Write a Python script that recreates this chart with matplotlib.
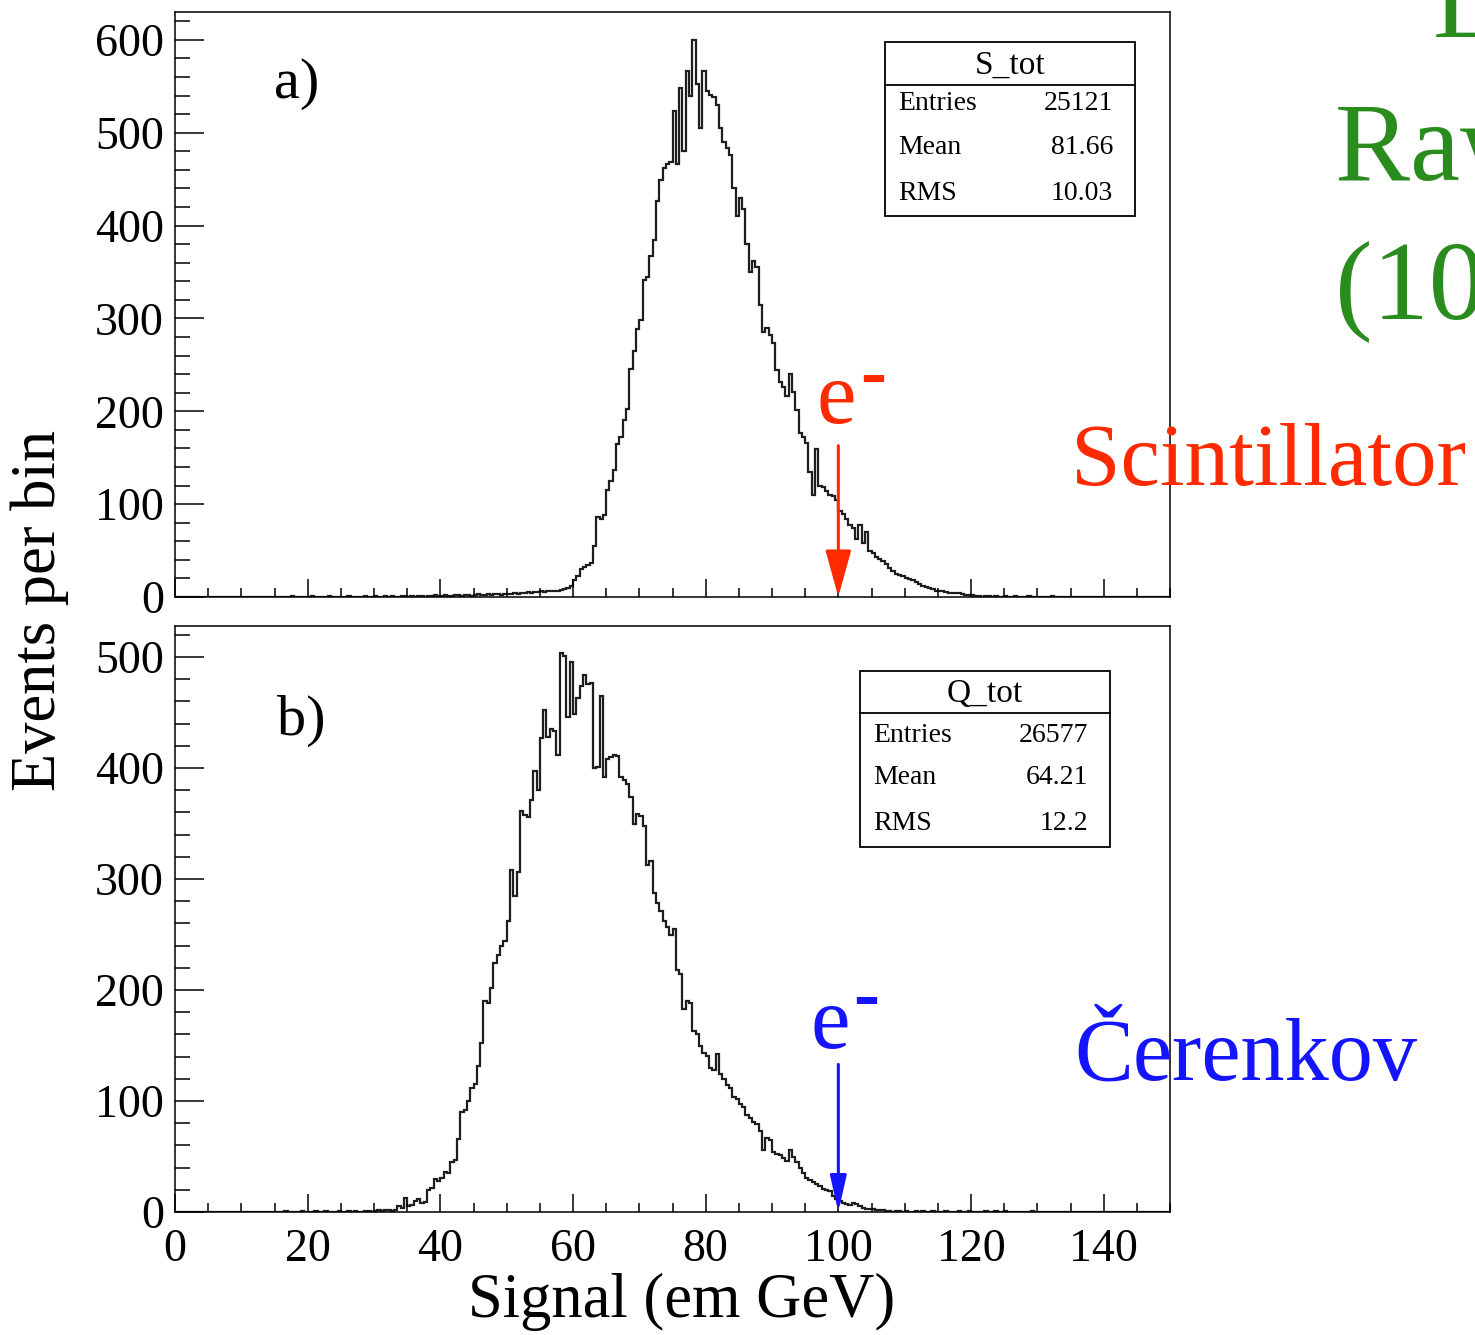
import matplotlib
matplotlib.use("Agg")
import matplotlib.pyplot as plt
import numpy as np
from matplotlib.patches import Rectangle
from matplotlib.lines import Line2D
from matplotlib.ticker import MultipleLocator

plt.rcParams["font.family"] = ["Liberation Serif", "DejaVu Serif"]

# histogram binning: 300 bins of 0.5 GeV between 0 and 150
edges = np.linspace(0, 150, 301)

# a) scintillator signal S_tot, counts per bin
s_left = [0, 0, 0, 0, 0, 0, 0, 0, 0, 0, 0, 0, 0, 0, 0, 0, 0, 0, 0, 0,
          0, 0, 0, 0, 0, 0, 0, 0, 0, 0, 0, 0, 0, 0, 0, 1, 0, 0, 0, 0,
          0, 1, 0, 0, 0, 0, 1, 0, 0, 0, 0, 0, 1, 0, 0, 0, 0, 1, 0, 0,
          1, 0, 0, 1, 0, 1, 0, 0, 1, 1, 0, 1, 0, 1, 1, 0, 1, 1, 2, 1,
          1, 2, 1, 1, 2, 2, 1, 2, 2, 1, 2, 3, 2, 2, 3, 2, 3, 3, 2, 3,
          3, 3, 4, 3, 4, 4, 5, 4, 5, 5, 6, 5, 6, 6, 7, 7]
s_core = [8, 9, 10, 12, 18, 23, 30, 32, 35, 37, 55, 86, 84, 88, 115, 125,
          137, 165, 172, 191, 203, 246, 265, 289, 298, 341, 345, 367, 384, 427,
          449, 462, 466, 468, 523, 466, 548, 480, 566, 540, 600, 552, 505, 566,
          545, 541, 538, 530, 505, 490, 484, 476, 440, 410, 430, 418, 380, 350,
          362, 355, 314, 285, 290, 282, 274, 244, 232, 226, 217, 240, 221, 201,
          177, 172, 166, 135, 110, 159, 120, 118, 114, 110, 109, 104, 93, 89,
          84, 78, 74, 62, 78, 58, 70, 50, 47, 43, 41, 39, 36, 31, 28, 25, 24,
          23, 21, 19, 18, 16, 14, 12, 11, 10, 9, 7, 6, 6, 5, 4, 4, 4, 4, 3, 2,
          2, 2, 1]
s_right = [1, 0, 1, 1, 0, 1, 0, 0, 1, 0, 0, 1, 0, 0, 0, 1, 0, 0, 0, 0,
           0, 0, 1, 0, 0, 0, 0, 0, 0, 0, 0, 0, 0, 0, 0, 0, 0, 0, 0, 0,
           0, 0, 0, 0, 0, 0, 0, 0, 0, 0, 0, 0, 0, 0, 0, 0, 0, 0]

# b) Cerenkov signal Q_tot
q_left = [0, 0, 0, 0, 0, 0, 0, 0, 0, 0, 0, 0, 0, 0, 0, 0, 0, 0, 0, 0,
          0, 0, 0, 0, 0, 0, 0, 0, 0, 0, 0, 0, 0, 1, 0, 0, 0, 0, 1, 0,
          0, 0, 1, 0, 0, 1, 0, 0, 0, 1, 0, 0, 1, 0, 1, 0, 0, 1, 1, 0]
q_core = [1, 2, 1, 2, 2, 1, 2, 5, 4, 13, 5, 6, 10, 12, 8, 9, 20, 22, 30, 28,
          31, 36, 35, 45, 47, 66, 90, 92, 100, 112, 115, 132, 152, 190, 188,
          202, 224, 232, 240, 244, 262, 308, 285, 306, 361, 358, 356, 371, 397,
          380, 427, 452, 428, 435, 433, 412, 504, 501, 446, 496, 449, 463, 474,
          484, 476, 477, 400, 401, 465, 392, 408, 410, 412, 411, 392, 389, 386,
          374, 350, 359, 357, 348, 313, 316, 287, 278, 271, 262, 257, 250, 255,
          218, 214, 183, 190, 188, 163, 160, 150, 143, 141, 130, 128, 142, 124,
          120, 114, 112, 104, 102, 97, 95, 87, 85, 81, 79, 73, 56, 67, 65, 54,
          52, 51, 49, 46, 56, 50, 45, 40, 35, 31, 29, 27, 25, 23, 21, 20, 19,
          14, 12, 10, 8, 7, 6, 8, 7, 5, 4, 3, 3, 3, 2, 2, 2, 1, 1]
q_right = [0, 1, 1, 0, 1, 0, 0, 1, 0, 1, 0, 0, 1, 0, 0, 0, 1, 0, 0, 0,
           1, 0, 0, 1, 0, 0, 0, 0, 1, 0, 0, 1, 0, 0, 1, 0, 0, 0, 0, 0,
           0, 0, 1, 0, 0, 0, 0, 0, 0, 0, 0, 0, 0, 0, 0, 0, 0, 0, 0, 0,
           0, 0, 0, 0, 0, 0, 0, 0, 0, 0, 0, 0, 0, 0, 0, 0, 0, 0, 0, 0,
           0, 0, 0, 0]

s_counts = np.array(s_left + s_core + s_right)
q_counts = np.array(q_left + q_core + q_right)

stats_s = ("S_tot", [("Entries", "25121"), ("Mean", "81.66"), ("RMS", "10.03")])
stats_q = ("Q_tot", [("Entries", "26577"), ("Mean", "64.21"), ("RMS", "12.2")])

x_ticks = [0, 20, 40, 60, 80, 100, 120, 140]

RED = "#ff2a00"
BLUE = "#1414ff"
GREEN = "#2b8c1e"

W, H = 1475, 1335
fig = plt.figure(figsize=(W / 100, H / 100), dpi=100)


def fx(x):
    return x / W


def fy(y):
    return 1 - y / H


def make_axes(top, bottom):
    ax = fig.add_axes([fx(175), fy(bottom), fx(1170) - fx(175), fy(top) - fy(bottom)])
    ax.set_xlim(0, 150)
    ax.xaxis.set_major_locator(MultipleLocator(20))
    ax.xaxis.set_minor_locator(MultipleLocator(5))
    ax.yaxis.set_major_locator(MultipleLocator(100))
    ax.yaxis.set_minor_locator(MultipleLocator(20))
    ax.tick_params(axis="both", which="both", direction="in", labelsize=33,
                   top=False, right=False, width=1.1)
    ax.tick_params(axis="y", which="major", length=21, pad=8)
    ax.tick_params(axis="y", which="minor", length=10.5)
    ax.tick_params(axis="x", which="major", length=13, pad=12)
    ax.tick_params(axis="x", which="minor", length=6.5)
    for sp in ax.spines.values():
        sp.set_linewidth(1.1)
    return ax


def stats_box(x0, x1, y0, sep, y1, title, rows, rows_y):
    fig.add_artist(Rectangle((fx(x0), fy(y1)), fx(x1) - fx(x0), fy(y0) - fy(y1),
                             transform=fig.transFigure, facecolor="white",
                             edgecolor="black", lw=1.3, zorder=5))
    fig.add_artist(Line2D([fx(x0), fx(x1)], [fy(sep), fy(sep)],
                          transform=fig.transFigure, color="black", lw=1.3, zorder=6))
    fig.text(fx((x0 + x1) / 2), fy((y0 + sep) / 2 + 2), title, ha="center", va="center",
             fontsize=24, zorder=7)
    for (name, val), yy in zip(rows, rows_y):
        fig.text(fx(x0 + 13), fy(yy), name, ha="left", va="center", fontsize=20, zorder=7)
        fig.text(fx(x1 - 22), fy(yy), val, ha="right", va="center", fontsize=20, zorder=7)


# a) scintillator
ax1 = make_axes(12, 597)
ax1.stairs(s_counts, edges, color="#1e1e1e", lw=1.6)
ax1.set_ylim(0, 630)
ax1.set_xticks(x_ticks)
ax1.set_xticklabels([])
ax1.annotate("", xy=(100, 0), xytext=(100, 163),
             arrowprops=dict(arrowstyle="-|>,head_length=2.9,head_width=0.8",
                             color=RED, lw=2.2, shrinkA=0, shrinkB=0,
                             mutation_scale=10))

# b) Cerenkov
ax2 = make_axes(626, 1212)
ax2.stairs(q_counts, edges, color="#1e1e1e", lw=1.6)
ax2.set_ylim(0, 528)
ax2.set_xticks(x_ticks)
ax2.annotate("", xy=(100, 0), xytext=(100, 133),
             arrowprops=dict(arrowstyle="-|>,head_length=2.2,head_width=0.5",
                             color=BLUE, lw=2.2, shrinkA=0, shrinkB=0,
                             mutation_scale=10))

stats_box(885, 1135, 42, 85, 216, stats_s[0], stats_s[1], [104, 148, 193])
stats_box(860, 1110, 671, 713, 847, stats_q[0], stats_q[1], [735, 778, 823])

# panel labels and axis titles
fig.text(fx(274), fy(98), "a)", fontsize=42, ha="left", va="baseline")
fig.text(fx(277), fy(735), "b)", fontsize=42, ha="left", va="baseline")
fig.text(fx(40), fy(610), "Events per bin", fontsize=45, rotation=90,
         ha="center", va="center")
fig.text(fx(682), fy(1302), "Signal (em GeV)", fontsize=45, ha="center", va="center")

# e- markers
fig.text(fx(817), fy(423), "e", fontsize=64, color=RED, ha="left", va="baseline")
fig.text(fx(860), fy(397), "-", fontsize=56, fontweight="bold", color=RED,
         ha="left", va="baseline")
fig.text(fx(810), fy(1048), "e", fontsize=64, color=BLUE, ha="left", va="baseline")
fig.text(fx(853), fy(1019), "-", fontsize=56, fontweight="bold", color=BLUE,
         ha="left", va="baseline")

# side labels
fig.text(fx(1071), fy(485), "Scintillator", fontsize=64, color=RED,
         ha="left", va="baseline")
fig.text(fx(1074), fy(1080), "\u010cerenkov", fontsize=63.5, color=BLUE,
         ha="left", va="baseline")

# slide title, cut by the right edge as in the slide
fig.text(fx(1433), fy(37), "L", fontsize=81, color=GREEN, ha="left", va="baseline")
fig.text(fx(1335), fy(180), "Raw data", fontsize=81, color=GREEN, ha="left", va="baseline")
fig.text(fx(1335), fy(318), "(100 GeV)", fontsize=81, color=GREEN, ha="left", va="baseline")

fig.savefig("out.png", dpi=100)
